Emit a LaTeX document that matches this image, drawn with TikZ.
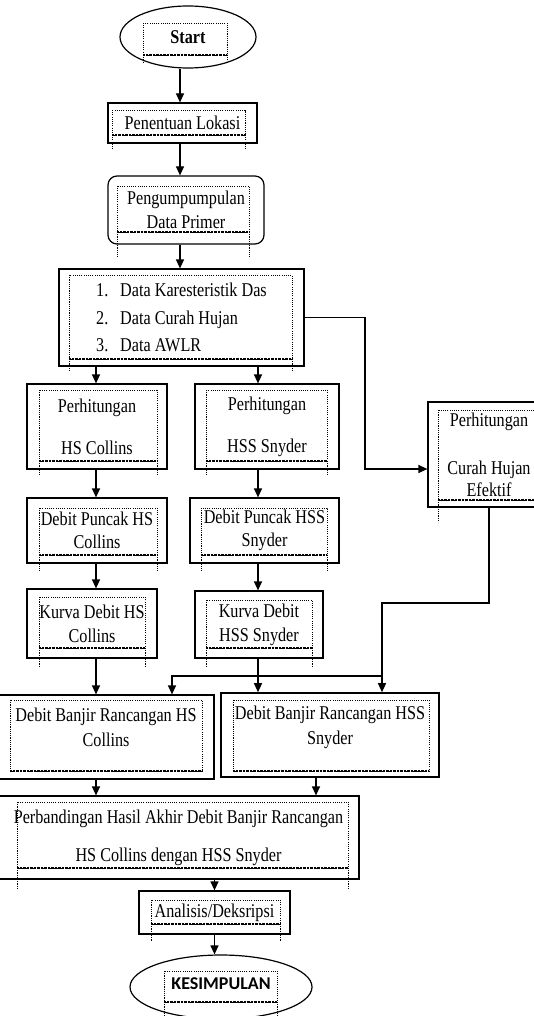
\documentclass[tikz,border=0pt]{standalone}
\usepackage{fontspec}
\setmainfont{Liberation Serif}[FakeStretch=0.83]
\newfontfamily\kesfont{Carlito}
\usetikzlibrary{arrows.meta,shapes.geometric}

\newcommand\dotframe[5]{%
  \draw[dotedge] (#1,#2) rectangle (#3,#4);
  \draw[dotbottom] (#1,#4) -- (#3,#4);
  \ifdim #5pt>0pt \draw[dotedge] (#1,#4) -- ++(0,#5) (#3,#4) -- ++(0,#5);\fi}

\begin{document}
\begin{tikzpicture}[x=1pt,y=-1pt,
  box/.style={draw, line width=1.2pt, inner sep=0pt, align=center,
              font=\fontsize{19.5}{23.5}\selectfont},
  startend/.style={ellipse, draw, line width=1.2pt, inner sep=0pt},
  arr/.style={line width=1.2pt, -{Triangle[width=8pt,length=9pt]}},
  dotedge/.style={line width=0.9pt, dash pattern=on 1.1pt off 1.1pt},
  dotbottom/.style={line width=1.6pt, dash pattern=on 0.7pt off 0.7pt}]

\useasboundingbox (0,0) rectangle (534,1016);
\fill[white] (0,0) rectangle (534,1016);
\clip (0,0) rectangle (534,1016);

% nodes
\node[startend, minimum width=136pt, minimum height=62pt,
      font=\bfseries\fontsize{19.5}{23.5}\selectfont] (start) at (188,37) {Start};
\node[box, minimum width=149pt, minimum height=40pt] (pen) at (182.5,123) {Penentuan Lokasi};
\node[box, rounded corners=9pt, minimum width=156pt, minimum height=68pt] (peng) at (186,210)
     {Pengumpumpulan\\Data Primer};
\node[box, align=left, minimum width=245pt, minimum height=97pt] (data) at (181.5,317.5)
     {\makebox[24pt][l]{1.}Data Karesteristik Das\\[4pt]
      \makebox[24pt][l]{2.}Data Curah Hujan\\[4pt]
      \makebox[24pt][l]{3.}Data AWLR};
\node[box, minimum width=140pt, minimum height=85pt] (hsc) at (97,426.5)
     {Perhitungan\\[18.5pt]HS Collins};
\node[box, minimum width=144pt, minimum height=85pt] (hss) at (267,426.5)
     {Perhitungan\\[18.5pt]HSS Snyder};
\node[box, minimum width=122pt, minimum height=105pt] (chu) at (489,454.5)
     {Perhitungan\\[24.5pt]Curah Hujan\\[-1.5pt]Efektif};
\node[box, minimum width=140pt, minimum height=65pt] (dpc) at (97,530.5)
     {Debit Puncak HS\\Collins};
\node[box, minimum width=149pt, minimum height=65pt] (dps) at (264.5,530.5)
     {Debit Puncak HSS\\Snyder};
\node[box, minimum width=130pt, minimum height=69pt] (kc) at (92,623.5)
     {Kurva Debit HS\\[0.5pt]Collins};
\node[box, minimum width=128pt, minimum height=67pt] (ks) at (259,624.5)
     {Kurva Debit\\[0.5pt]HSS Snyder};
\node[box, minimum width=216pt, minimum height=84pt] (bc) at (106,737)
     {Debit Banjir Rancangan HS\\[1.5pt]Collins\\[-3.5pt]\mbox{}};
\node[box, line width=1.6pt, minimum width=218pt, minimum height=84pt] (bs) at (330,735)
     {Debit Banjir Rancangan HSS\\[1.5pt]Snyder\\[-3.5pt]\mbox{}};
\node[box, minimum width=361pt, minimum height=83pt] (pb) at (178.5,837.5)
     {Perbandingan Hasil Akhir Debit Banjir Rancangan\\[14.5pt]HS Collins dengan HSS Snyder};
\node[box, minimum width=151pt, minimum height=43pt] (an) at (214.5,912.5) {Analisis/Deksripsi};
\node[startend, minimum width=182pt, minimum height=64pt,
      font=\kesfont\bfseries\fontsize{18}{21}\selectfont] (kes) at (221,987) {\raisebox{6pt}{KESIMPULAN}};

% dotted inner frames
\dotframe{143}{23}{227}{55}{7}
\dotframe{112}{110}{245}{135}{15}
\dotframe{117}{186}{249}{232}{26}
\dotframe{69}{275}{292}{359}{12}
\dotframe{39}{390}{157}{461}{14}
\dotframe{206}{390}{327}{461}{14}
\dotframe{438}{410}{560}{500}{22}
\dotframe{39}{508}{157}{555}{16}
\dotframe{201}{508}{327}{555}{16}
\dotframe{39}{597}{145}{648}{18}
\dotframe{206}{600}{312}{648}{18}
\dotframe{10}{700}{202}{771}{0}
\dotframe{233}{700}{429}{771}{0}
\dotframe{17}{802}{348}{868}{20}
\dotframe{151}{900}{280}{924}{17}
\dotframe{164}{971}{277}{1002}{14}

% helper coordinates
\coordinate (spine) at (180,0);
\coordinate (colA) at (96,0);
\coordinate (colB) at (258,0);
\coordinate (colC) at (316,0);
\coordinate (k1) at (365,469);
\coordinate (k2) at (382,603);
\coordinate (k3) at (382,676);
\coordinate (k4) at (172,676);

% connectors
\draw[arr] (start.south -| spine) -- (pen.north -| spine);
\draw[arr] (pen.south -| spine) -- (peng.north -| spine);
\draw[arr] (peng.south -| spine) -- (data.north -| spine);
\draw[arr] (data.south -| colA) -- (hsc.north -| colA);
\draw[arr] (data.south -| colB) -- (hss.north -| colB);
\draw[arr] (data.east) -| (k1) -- (k1 -| chu.west);
\draw[arr] (hsc.south -| colA) -- (dpc.north -| colA);
\draw[arr] (hss.south -| colB) -- (dps.north -| colB);
\draw[arr] (dpc.south -| colA) -- (kc.north -| colA);
\draw[arr] (dps.south -| colB) -- (ks.north -| colB);
\draw[arr] (kc.south -| colA) -- (bc.north -| colA);
\draw[arr] (ks.south -| colB) -- (bs.north -| colB);
\draw[arr] (chu.south) |- (k2) -- (k2 |- bs.north);
\draw[arr] (k3) -- (k4) -- (k4 |- bc.north);
\draw[arr] (bc.south -| colA) -- (pb.north -| colA);
\draw[arr] (bs.south -| colC) -- (pb.north -| colC);
\draw[arr] (pb.south -| an.north) -- (an.north);
\draw[arr] (an.south) -- (an.south |- kes.north);
\end{tikzpicture}
\end{document}
